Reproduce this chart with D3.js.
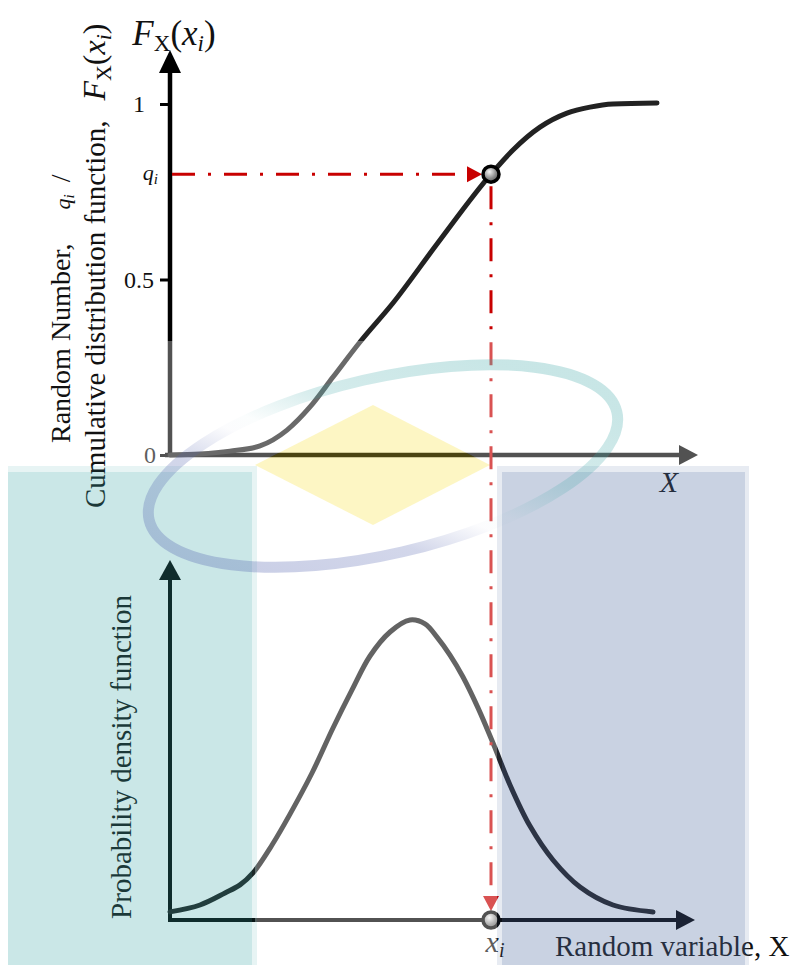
<!DOCTYPE html>
<html>
<head>
<meta charset="utf-8">
<script src="https://cdn.jsdelivr.net/npm/d3@7"></script>
<style>
  body { margin: 0; background: #fff; }
  svg { display: block; }
  text { font-family: "Liberation Serif", "Times New Roman", serif; fill: #111; }
</style>
</head>
<body>
<div id="chart"></div>
<script>
// Inverse transform sampling sketch: CDF on top, PDF below

// Cumulative distribution function (top panel)
const cdfX = [0, 0.6, 1.2, 1.8, 2.34, 2.8, 3.26, 3.8, 4.46, 5.34, 6.42, 6.86, 7.4, 7.94, 8.4, 8.86, 9.74];
const cdfY = [0, 0.003, 0.011, 0.026, 0.071, 0.137, 0.222, 0.322, 0.433, 0.601, 0.8, 0.869, 0.934, 0.974, 0.991, 1.0, 1.003];

// Probability density function (bottom panel, peak scaled to 1)
const pdfX = [0, 0.6, 1.1, 1.4, 1.66, 2.04, 2.4, 2.84, 3.26, 3.64, 4.0, 4.4, 4.8, 5.1, 5.34, 5.6, 5.86, 6.16, 6.46, 6.8, 7.2, 7.66, 8.2, 8.86, 9.66];
const pdfY = [0.027, 0.05, 0.09, 0.117, 0.157, 0.25, 0.353, 0.49, 0.64, 0.767, 0.88, 0.96, 1.0, 0.987, 0.943, 0.883, 0.81, 0.707, 0.59, 0.45, 0.313, 0.2, 0.11, 0.05, 0.027];

// Tick values / labels on the CDF axis
const cdfTicks = [0, 0.5, 1];
const cdfTickLabels = ["0", "0.5", "1"];

// The sampled random number and its inverse
const qi = 0.8;
const xi = 6.42;

const width = 796;
const height = 965;

const svg = d3.select("#chart")
    .append("svg")
    .attr("width", width)
    .attr("height", height);

const defs = svg.append("defs");

// Shared x scale, one y scale per panel
const x = d3.scaleLinear().domain([0, 10]).range([170, 670]);
const yTop = d3.scaleLinear().domain([0, 1]).range([455, 104]);
const yBot = d3.scaleLinear().domain([0, 1]).range([920, 620]);

// grey ball marker
const ball = defs.append("radialGradient").attr("id", "ball")
    .attr("cx", "40%").attr("cy", "35%").attr("r", "70%");
ball.append("stop").attr("offset", "0%").attr("stop-color", "#f4f4f4");
ball.append("stop").attr("offset", "60%").attr("stop-color", "#8a8a8a");
ball.append("stop").attr("offset", "100%").attr("stop-color", "#555");

// helper: straight line with a filled triangular head at (x2, y2)
function arrow(g, x1, y1, x2, y2, color, sw, headLen, headHalf) {
    const dx = x2 - x1, dy = y2 - y1;
    const len = Math.sqrt(dx * dx + dy * dy);
    const ux = dx / len, uy = dy / len;
    const bx = x2 - ux * headLen, by = y2 - uy * headLen;
    g.append("line")
        .attr("x1", x1).attr("y1", y1)
        .attr("x2", bx + ux * 2).attr("y2", by + uy * 2)
        .attr("stroke", color)
        .attr("stroke-width", sw);
    g.append("path")
        .attr("d", `M${x2},${y2}L${bx - uy * headHalf},${by + ux * headHalf}L${bx + uy * headHalf},${by - ux * headHalf}Z`)
        .attr("fill", color);
}

const chart = svg.append("g");

// ---------- top panel: CDF ----------
arrow(chart, x(0), yTop(0) + 2, x(0), 50, "#000", 4.5, 23, 11);
arrow(chart, x(0) - 5, yTop(0), 698, yTop(0), "#000", 4.5, 19, 10);

const yAxisTop = d3.axisLeft(yTop)
    .tickValues(cdfTicks)
    .tickSize(10)
    .tickFormat((d, i) => cdfTickLabels[i]);

const axTop = chart.append("g")
    .attr("transform", `translate(${x(0)},0)`)
    .call(yAxisTop);
axTop.select(".domain").remove();
axTop.selectAll(".tick line").attr("stroke", "#000").attr("stroke-width", 3);
axTop.selectAll(".tick text")
    .attr("fill", "#111")
    .attr("font-size", 24)
    .attr("font-family", "Liberation Serif, serif")
    .attr("text-anchor", "middle")
    .attr("x", d => d === 0 ? -20 : -31);

// q_i label on the axis
chart.append("text")
    .attr("x", 158).attr("y", yTop(qi) + 6)
    .attr("text-anchor", "end")
    .attr("font-size", 22)
    .html('<tspan font-style="italic">q</tspan><tspan font-style="italic" font-size="15" dy="4">i</tspan>');

// CDF curve
const cdfLine = d3.line()
    .x((d, i) => x(cdfX[i]))
    .y(d => yTop(d))
    .curve(d3.curveMonotoneX);

chart.append("path")
    .datum(cdfY)
    .attr("d", cdfLine)
    .attr("fill", "none")
    .attr("stroke", "#222")
    .attr("stroke-width", 5)
    .attr("stroke-linecap", "round")
    .attr("stroke-linejoin", "round");

// axis titles
chart.append("text")
    .attr("x", 174).attr("y", 45)
    .attr("text-anchor", "middle")
    .attr("font-size", 35)
    .html('<tspan font-style="italic">F</tspan><tspan font-size="23" dy="6">X</tspan><tspan dy="-6">(</tspan><tspan font-style="italic">x</tspan><tspan font-style="italic" font-size="23" dy="6">i</tspan><tspan dy="-6">)</tspan>');

chart.append("text")
    .attr("transform", "translate(70,443) rotate(-90)")
    .attr("font-size", 28)
    .attr("fill", "#222")
    .html('Random Number,<tspan dx="34" font-style="italic" font-size="22">q</tspan><tspan font-style="italic" font-size="15" dy="4">i</tspan><tspan dy="-4" dx="12">/</tspan>');

chart.append("text")
    .attr("transform", "translate(105,508) rotate(-90)")
    .attr("font-size", 29)
    .attr("fill", "#222")
    .html('Cumulative distribution function,<tspan dx="20" font-style="italic" font-size="32">F</tspan><tspan font-size="22" dy="6">X</tspan><tspan dy="-6" font-size="32">(</tspan><tspan font-style="italic" font-size="32">x</tspan><tspan font-style="italic" font-size="22" dy="6">i</tspan><tspan dy="-6" font-size="32">)</tspan>');

chart.append("text")
    .attr("x", 669).attr("y", 492)
    .attr("text-anchor", "middle")
    .attr("font-size", 30)
    .attr("font-style", "italic")
    .text("X");

// ---------- bottom panel: PDF ----------
arrow(chart, x(0), yBot(0) + 2, x(0), 560, "#000", 4, 20, 11);
arrow(chart, x(0) - 2, yBot(0), 695, yBot(0), "#000", 4, 19, 10);

const pdfLine = d3.line()
    .x((d, i) => x(pdfX[i]))
    .y(d => yBot(d))
    .curve(d3.curveCatmullRom);

chart.append("path")
    .datum(pdfY)
    .attr("d", pdfLine)
    .attr("fill", "none")
    .attr("stroke", "#1a1a1a")
    .attr("stroke-width", 5)
    .attr("stroke-linecap", "round")
    .attr("stroke-linejoin", "round");

chart.append("text")
    .attr("transform", "translate(131,757) rotate(-90)")
    .attr("text-anchor", "middle")
    .attr("font-size", 29)
    .text("Probability density function");

chart.append("text")
    .attr("x", 555).attr("y", 956)
    .attr("font-size", 29)
    .text("Random variable, X");

chart.append("text")
    .attr("x", 495).attr("y", 952)
    .attr("text-anchor", "middle")
    .attr("font-size", 30)
    .html('<tspan font-style="italic">x</tspan><tspan font-style="italic" font-size="20" dy="5">i</tspan>');

// ---------- q_i -> x_i mapping (red dash-dot) ----------
const red = "#c80000";
const dash = "23,13,3,13";

chart.append("line")
    .attr("x1", x(0) + 2).attr("y1", yTop(qi))
    .attr("x2", x(xi) - 22).attr("y2", yTop(qi))
    .attr("stroke", red).attr("stroke-width", 3)
    .attr("stroke-dasharray", dash);
chart.append("path")
    .attr("d", `M${x(xi) - 9},${yTop(qi)}L${x(xi) - 24},${yTop(qi) - 8}L${x(xi) - 24},${yTop(qi) + 8}Z`)
    .attr("fill", red);

chart.append("line")
    .attr("x1", x(xi)).attr("y1", yTop(qi) + 12)
    .attr("x2", x(xi)).attr("y2", yBot(0) - 22)
    .attr("stroke", red).attr("stroke-width", 3)
    .attr("stroke-dasharray", dash);
chart.append("path")
    .attr("d", `M${x(xi)},${yBot(0) - 9}L${x(xi) - 8},${yBot(0) - 24}L${x(xi) + 8},${yBot(0) - 24}Z`)
    .attr("fill", red);

// markers on the curve and on the x axis
[[x(xi), yTop(qi)], [x(xi), yBot(0)]].forEach(p => {
    chart.append("circle")
        .attr("cx", p[0]).attr("cy", p[1]).attr("r", 8)
        .attr("fill", "url(#ball)")
        .attr("stroke", "#000")
        .attr("stroke-width", 3.5);
});

// ---------- faint logo watermark laid over the lower part ----------
const wm = svg.append("g").attr("pointer-events", "none");

const diamond = "M373,405L490,465L373,525L255,465Z";
wm.append("path")
    .attr("d", "M112,341H796V466H112Z M255,466H497V965H255Z " + diamond)
    .attr("fill", "#fff")
    .attr("fill-opacity", 0.32)
    .attr("fill-rule", "evenodd");

// left teal block
wm.append("rect").attr("x", 8).attr("y", 466).attr("width", 249).attr("height", 499)
    .attr("fill", "rgb(58,161,161)").attr("fill-opacity", 0.12);
wm.append("rect").attr("x", 8).attr("y", 472).attr("width", 244).attr("height", 493)
    .attr("fill", "rgb(58,165,165)").attr("fill-opacity", 0.17);

// right blue block
wm.append("rect").attr("x", 497).attr("y", 466).attr("width", 252).attr("height", 499)
    .attr("fill", "rgb(84,110,165)").attr("fill-opacity", 0.14);
wm.append("rect").attr("x", 502).attr("y", 472).attr("width", 243).attr("height", 493)
    .attr("fill", "rgb(84,110,165)").attr("fill-opacity", 0.2);

// yellow diamond
wm.append("path").attr("d", diamond)
    .attr("fill", "rgb(250,225,60)").attr("fill-opacity", 0.3);

// swoosh ring: teal on the upper right, lavender on the lower left
const ringCx = 383, ringCy = 466, ringRot = -13;
// gradient ends given on the page, moved into the ellipse's rotated frame
function toLocal(gx, gy) {
    const a = -ringRot * Math.PI / 180;
    const dx = gx - ringCx, dy = gy - ringCy;
    return [dx * Math.cos(a) - dy * Math.sin(a), dx * Math.sin(a) + dy * Math.cos(a)];
}
const g1 = toLocal(419, 332), g2 = toLocal(311, 612);
const ringGrad = defs.append("linearGradient").attr("id", "ring")
    .attr("gradientUnits", "userSpaceOnUse")
    .attr("x1", g1[0]).attr("y1", g1[1]).attr("x2", g2[0]).attr("y2", g2[1]);
ringGrad.append("stop").attr("offset", "0%").attr("stop-color", "rgb(58,165,165)").attr("stop-opacity", 0.28);
ringGrad.append("stop").attr("offset", "30%").attr("stop-color", "rgb(58,165,165)").attr("stop-opacity", 0.22);
ringGrad.append("stop").attr("offset", "47%").attr("stop-color", "rgb(58,165,165)").attr("stop-opacity", 0.02);
ringGrad.append("stop").attr("offset", "53%").attr("stop-color", "rgb(84,100,175)").attr("stop-opacity", 0.02);
ringGrad.append("stop").attr("offset", "68%").attr("stop-color", "rgb(84,100,175)").attr("stop-opacity", 0.26);
ringGrad.append("stop").attr("offset", "100%").attr("stop-color", "rgb(84,100,175)").attr("stop-opacity", 0.32);

wm.append("ellipse")
    .attr("cx", 0).attr("cy", 0).attr("rx", 240).attr("ry", 88)
    .attr("transform", `translate(${ringCx},${ringCy}) rotate(${ringRot})`)
    .attr("fill", "none")
    .attr("stroke", "url(#ring)")
    .attr("stroke-width", 11);
</script>
</body>
</html>
